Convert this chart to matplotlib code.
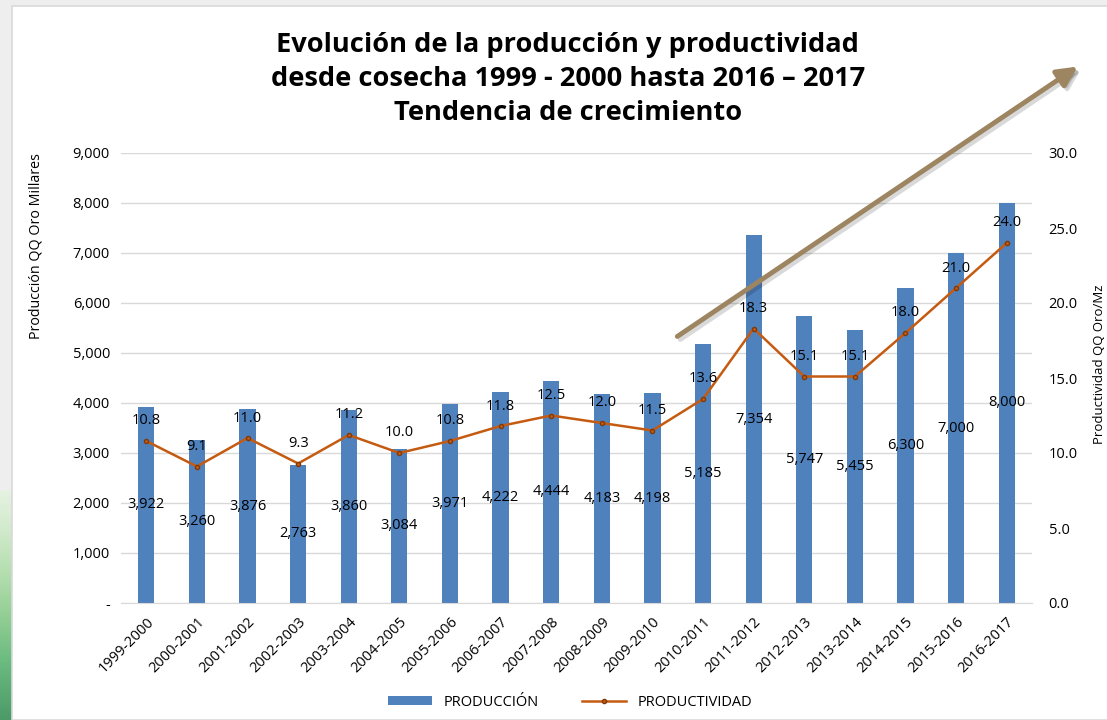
import numpy as np
import matplotlib
matplotlib.use("Agg")
from matplotlib import pyplot as plt
from matplotlib.ticker import FuncFormatter, MultipleLocator

plt.rcParams['font.family'] = ['Open Sans', 'DejaVu Sans']

cosechas = ['1999-2000', '2000-2001', '2001-2002', '2002-2003', '2003-2004', '2004-2005',
            '2005-2006', '2006-2007', '2007-2008', '2008-2009', '2009-2010', '2010-2011',
            '2011-2012', '2012-2013', '2013-2014', '2014-2015', '2015-2016', '2016-2017']
produccion = [3922, 3260, 3876, 2763, 3860, 3084, 3971, 4222, 4444, 4183, 4198, 5185,
              7354, 5747, 5455, 6300, 7000, 8000]
productividad = [10.8, 9.1, 11.0, 9.3, 11.2, 10.0, 10.8, 11.8, 12.5, 12.0, 11.5, 13.6,
                 18.3, 15.1, 15.1, 18.0, 21.0, 24.0]

azul = '#4f81bd'
naranja = '#c55a11'

fig = plt.figure(figsize=(11.07, 7.2), dpi=100, facecolor='#eeeeee')

# fondo: panel blanco y franja verde a la izquierda
fondo = fig.add_axes([0, 0, 1, 1], zorder=-10)
fondo.set_axis_off()
grad = np.linspace(0, 1, 256).reshape(-1, 1)
fondo.imshow(grad, extent=[0, 12 / 1107, 0, 230 / 720], cmap='Greens', vmin=-0.2, vmax=1.3,
             aspect='auto', origin='upper', alpha=0.75)
fondo.add_patch(plt.Rectangle((12 / 1107, 0), 1, 1 - 6 / 720, facecolor='white',
                              edgecolor='#d9d9d9', lw=1.2))
fondo.set_xlim(0, 1)
fondo.set_ylim(0, 1)

ax = fig.add_axes([121 / 1107, 1 - 603 / 720, 911 / 1107, 450 / 720])
x = np.arange(len(cosechas))
barras = ax.bar(x, produccion, width=0.32, color=azul, label='PRODUCCIÓN', zorder=2)
ax.set_xlim(-0.5, len(cosechas) - 0.5)
ax.set_ylim(0, 9000)
ax.yaxis.set_major_locator(MultipleLocator(1000))
ax.yaxis.set_major_formatter(FuncFormatter(lambda v, p: '-' if v == 0 else f'{int(v):,}'))
ax.grid(axis='y', color='#d9d9d9', lw=1, zorder=0)
ax.set_axisbelow(True)
for s in ['top', 'right', 'left']:
    ax.spines[s].set_visible(False)
ax.spines['bottom'].set_color('#d9d9d9')
ax.tick_params(axis='both', length=0, labelsize=10.5, colors='black', pad=8)
ax.set_xticks(x)
ax.set_xticklabels(cosechas, rotation=45, ha='right', rotation_mode='anchor')
ax.set_ylabel('Producción QQ Oro Millares', fontsize=10.3, loc='top')
ax.yaxis.set_label_coords(-0.085, 1.0)

for xi, v in zip(x, produccion):
    ax.text(xi, v / 2, f'{v:,}', ha='center', va='center', fontsize=10.5, zorder=5)

ax2 = ax.twinx()
ax2.plot(x, productividad, color=naranja, lw=1.8, marker='o', markersize=3,
         markerfacecolor=naranja, markeredgecolor='#7f3a0b', label='PRODUCTIVIDAD', zorder=4)
ax2.set_ylim(0, 30)
ax2.yaxis.set_major_locator(MultipleLocator(5))
ax2.yaxis.set_major_formatter(FuncFormatter(lambda v, p: f'{v:.1f}'))
for s in ['top', 'right', 'left', 'bottom']:
    ax2.spines[s].set_visible(False)
ax2.tick_params(axis='y', length=0, labelsize=10.5, pad=12)
ax2.set_ylabel('Productividad QQ Oro/Mz', fontsize=9.5, rotation=90)
ax2.yaxis.set_label_coords(1.067, 0.53)
for xi, v in zip(x, productividad):
    ax2.annotate(f'{v:.1f}', (xi, v), xytext=(0, 9), textcoords='offset points',
                 ha='center', va='bottom', fontsize=10.5, zorder=5)

h1, l1 = ax.get_legend_handles_labels()
h2, l2 = ax2.get_legend_handles_labels()
fig.legend(h1 + h2, l1 + l2, loc='center', bbox_to_anchor=(0.515, 1 - 702 / 720), ncol=2,
           frameon=False, fontsize=10.5, handlelength=3.0, columnspacing=3, handleheight=0.6)

fig.text(0.513, 1 - 79 / 720,
         'Evolución de la producción y productividad\n'
         'desde cosecha 1999 - 2000 hasta 2016 – 2017\n'
         'Tendencia de crecimiento',
         ha='center', va='center', fontsize=19.6, fontweight='bold', linespacing=1.38)

# flecha de tendencia
for off, col, a in [((3, -3), '#000000', 0.15), ((0, 0), '#9c8560', 1.0)]:
    fig.add_artist(matplotlib.patches.FancyArrowPatch(
        ((675 + off[0]) / 1107, 1 - (338 - off[1]) / 720),
        ((1080 + off[0]) / 1107, 1 - (65 - off[1]) / 720),
        transform=fig.transFigure, arrowstyle='-|>,head_length=12,head_width=6',
        mutation_scale=1, lw=3.5, color=col, alpha=a, zorder=20))

fig.savefig('out.png', dpi=100, facecolor=fig.get_facecolor())
